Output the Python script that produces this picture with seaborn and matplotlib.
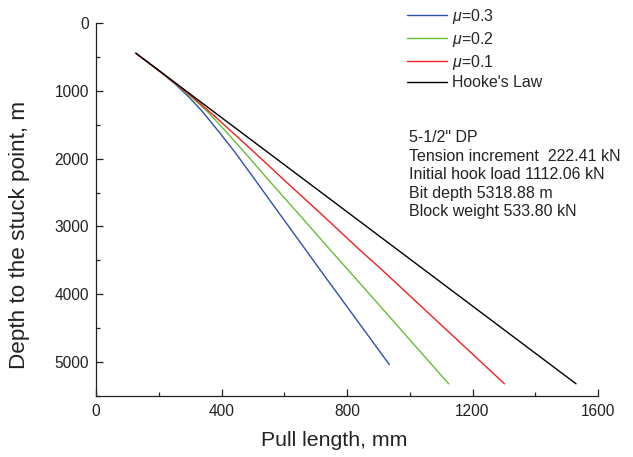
import pandas as pd
import numpy as np
import seaborn as sns
import matplotlib.pyplot as plt
from matplotlib.ticker import MultipleLocator

# ---------------- data ----------------
series_names = ['$\\mu$=0.3', '$\\mu$=0.2', '$\\mu$=0.1', "Hooke's Law"]

depth_mu03 = [446, 700, 900, 1100, 1300, 1600, 1900, 2300, 2800, 3343, 3638, 5037]
pull_mu03 = [127, 200, 252, 298, 338, 391, 442, 505, 583, 668, 714, 935]

depth_mu02 = [446, 700, 900, 1100, 1300, 1600, 1900, 2300, 2800, 3343, 3638, 5320]
pull_mu02 = [127, 200, 254, 306, 354, 414, 472, 547, 643, 746, 803, 1124]

depth_mu01 = [446, 700, 900, 1100, 1300, 1600, 1900, 2300, 2800, 3343, 3638, 5320]
pull_mu01 = [127, 200, 256, 310, 360, 432, 503, 596, 714, 840, 911, 1302]

depth_hooke = [446, 2485, 5320]
pull_hooke = [127, 714, 1530]

info_lines = ['5-1/2" DP',
              'Tension increment  222.41 kN',
              'Initial hook load 1112.06 kN',
              'Bit depth 5318.88 m',
              'Block weight 533.80 kN']

colors = ['#2D4FB0', '#66BE34', '#F02020', '#000000']

# ---------------- build long table ----------------
frames = []
for name, d, p in zip(series_names,
                      [depth_mu03, depth_mu02, depth_mu01, depth_hooke],
                      [pull_mu03, pull_mu02, pull_mu01, pull_hooke]):
    frames.append(pd.DataFrame({'pull': p, 'depth': d, 'case': name}))
data = pd.concat(frames, ignore_index=True)

sns.set_style('ticks')
plt.rcParams['font.family'] = ['Liberation Sans', 'DejaVu Sans']
plt.rcParams['mathtext.fontset'] = 'custom'
plt.rcParams['mathtext.it'] = 'Liberation Sans:italic'
plt.rcParams['mathtext.rm'] = 'Liberation Sans'

fig = plt.figure(figsize=(6.33, 4.57), dpi=100)
ax = fig.add_axes([96 / 633, 1 - 396 / 457, (598 - 96) / 633, (396 - 23) / 457])

sns.lineplot(data=data, x='pull', y='depth', hue='case', palette=colors,
             sort=False, estimator=None, linewidth=1.0, legend=False, ax=ax)

ax.set_xlim(0, 1600)
ax.set_ylim(5500, 0)
ax.xaxis.set_major_locator(MultipleLocator(400))
ax.xaxis.set_minor_locator(MultipleLocator(200))
ax.yaxis.set_major_locator(MultipleLocator(1000))
ax.yaxis.set_minor_locator(MultipleLocator(500))
ax.tick_params(which='major', direction='in', length=5, width=0.9,
               labelsize=11.2, colors='#222222', pad=6)
ax.tick_params(which='minor', direction='in', length=3, width=0.9)
ax.tick_params(axis='y', which='major', pad=5)
for s in ['top', 'right']:
    ax.spines[s].set_visible(False)
for s in ['left', 'bottom']:
    ax.spines[s].set_linewidth(0.9)
    ax.spines[s].set_color('#222222')

ax.set_xlabel('')
ax.set_ylabel('')
fig.text(334 / 633, 1 - 440 / 457, 'Pull length, mm', fontsize=15.3,
         color='#222222', ha='center', va='center')
fig.text(20 / 633, 1 - 235 / 457, 'Depth to the stuck point, m', fontsize=16.2,
         color='#222222', ha='center', va='center', rotation=90)

# legend
handles = [plt.Line2D([], [], color=c, linewidth=1.0) for c in colors]
fig.legend(handles, series_names, loc='upper left',
           bbox_to_anchor=(407 / 633, 1 - 7 / 457), frameon=False,
           fontsize=11.4, handlelength=2.55, handletextpad=0.32,
           labelspacing=0.24, borderpad=0, borderaxespad=0)

# parameters text
fig.text(409 / 633, 1 - 130 / 457, '\n'.join(info_lines), fontsize=11.5,
         color='#222222', va='top', ha='left', linespacing=1.3)

fig.savefig('out.png', dpi=100)
